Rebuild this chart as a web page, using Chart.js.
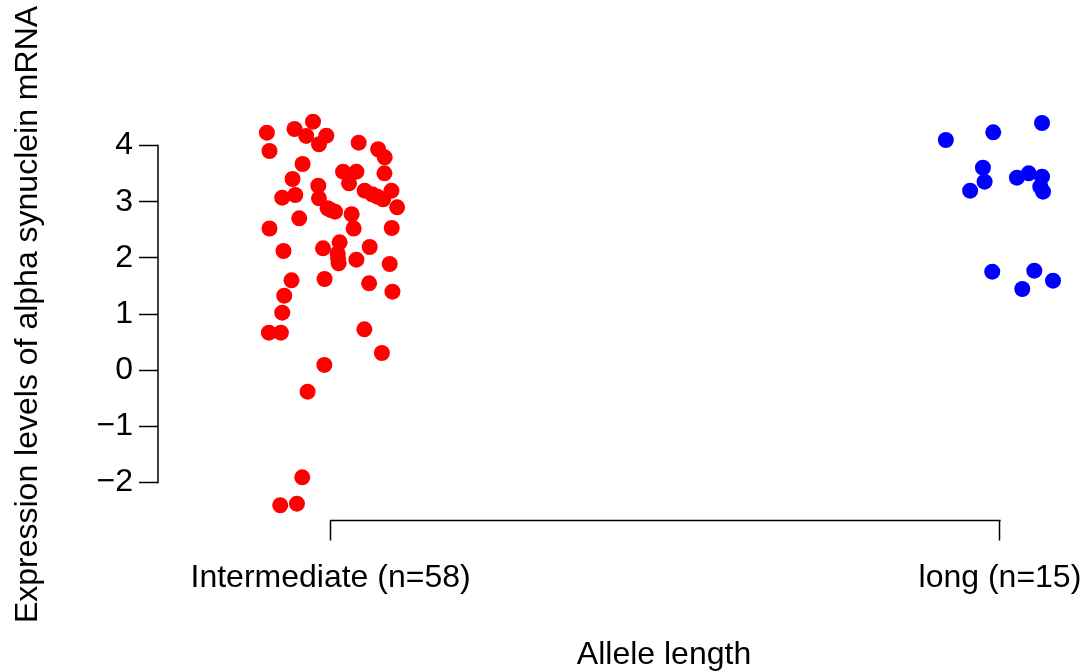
<!DOCTYPE html>
<html>
<head>
<meta charset="utf-8">
<script src="https://cdn.jsdelivr.net/npm/chart.js@4.4.1/dist/chart.umd.min.js"></script>
<style>
  html, body { margin: 0; padding: 0; background: #fff; overflow: hidden; }
  #wrap { position: relative; width: 1178px; height: 672px; }
</style>
</head>
<body>
<div id="wrap"><canvas id="c"></canvas></div>
<script>
// ---- data ----
const categories = ['Intermediate (n=58)', 'long (n=15)'];
const xTicks = [1, 2];
const yTicks = [-2, -1, 0, 1, 2, 3, 4];
const xTitle = 'Allele length';
const yTitle = 'Expression levels of alpha synuclein mRNA';

const intermediateValues = [
  4.228, 3.902, 4.294, 4.424, 4.170, 4.175, 4.022, 3.671, 4.050, 3.933,
  3.790, 3.404, 3.534, 3.534, 3.327, 3.505, 3.285, 3.119, 3.071, 3.060,
  3.196, 3.132, 3.196, 3.043, 2.900, 2.882, 2.822, 2.704, 2.776, 2.523,
  2.523, 2.532, 2.170, 2.277, 2.081, 2.122, 2.193, 1.903, 1.967, 1.891,
  1.624, 1.600, 1.547, 1.398, 1.326, 1.024, 0.668, 0.668, 0.728, 0.306,
  0.093, -0.383, -1.907, -2.405, -2.377, 2.850, 1.990, 3.090
];
const intermediateJitter = [
  -0.0952, -0.0913, -0.0539, -0.0263, -0.0364, -0.0064, -0.0174, -0.0419, 0.0419, 0.0710,
  0.0808, -0.0569, 0.0186, 0.0385, 0.0275, 0.0804, -0.0184, -0.0528, -0.0723, -0.0174,
  0.0509, 0.0620, 0.0909, 0.0784, 0.0994, -0.0045, 0.0066, -0.0469, 0.0314, -0.0913,
  0.0344, 0.0913, -0.0114, 0.0135, 0.0105, -0.0704, 0.0584, 0.0120, 0.0385, 0.0883,
  -0.0090, -0.0584, 0.0575, 0.0924, -0.0693, -0.0723, -0.0922, -0.0743, 0.0504, 0.0766,
  -0.0094, -0.0344, -0.0424, -0.0753, -0.0503, 0.0003, 0.0112, 0.0700
];
const longValues = [
  4.098, 4.235, 4.401, 3.605, 3.356, 3.196, 3.427, 3.505, 3.445, 3.267,
  3.178, 1.754, 1.771, 1.593, 1.446
];
const longJitter = [
  -0.0808, -0.0100, 0.0629, -0.0254, -0.0229, -0.0445, 0.0254, 0.0430, 0.0629, 0.0603,
  0.0644, -0.0115, 0.0514, 0.0793, 0.0334
];

// ---- build chart ----
function pts(vals, jit, cat) {
  return vals.map((v, i) => ({ x: cat + jit[i], y: v }));
}
const FONT = 'Liberation Sans, Arial, Helvetica, sans-serif';

const axisLines = {
  id: 'axisLines',
  afterDraw(chart) {
    const { ctx, chartArea, scales } = chart;
    ctx.save();
    ctx.strokeStyle = '#000';
    ctx.lineWidth = 1.5;
    ctx.lineCap = 'square';
    const y0 = scales.y.getPixelForValue(yTicks[0]);
    const y1 = scales.y.getPixelForValue(yTicks[yTicks.length - 1]);
    ctx.beginPath();
    ctx.moveTo(chartArea.left, y0);
    ctx.lineTo(chartArea.left, y1);
    ctx.stroke();
    const x0 = scales.x.getPixelForValue(xTicks[0]);
    const x1 = scales.x.getPixelForValue(xTicks[xTicks.length - 1]);
    ctx.beginPath();
    ctx.moveTo(x0, chartArea.bottom);
    ctx.lineTo(x1, chartArea.bottom);
    ctx.stroke();
    ctx.restore();
  }
};

new Chart(document.getElementById('c'), {
  type: 'scatter',
  data: {
    datasets: [
      { label: categories[0], data: pts(intermediateValues, intermediateJitter, 1),
        backgroundColor: '#FF0000', borderWidth: 0, pointRadius: 8 },
      { label: categories[1], data: pts(longValues, longJitter, 2),
        backgroundColor: '#0000FF', borderWidth: 0, pointRadius: 8 }
    ]
  },
  options: {
    responsive: true,
    maintainAspectRatio: false,
    animation: false,
    events: [],
    layout: { padding: { left: 0, top: 108.5, right: 2, bottom: 0 } },
    plugins: { legend: { display: false }, tooltip: { enabled: false } },
    scales: {
      x: {
        type: 'linear',
        min: 0.7421, max: 2.2541,
        afterFit(s) { s.height = 151.5; },
        afterBuildTicks(s) { s.ticks = xTicks.map(v => ({ value: v })); },
        border: { display: false },
        grid: { display: true, drawOnChartArea: false, drawTicks: true,
                tickLength: 20, tickColor: '#000', tickWidth: 1.5 },
        ticks: {
          color: '#000', padding: 18, maxRotation: 0, autoSkip: false,
          font: { family: FONT, size: 32 },
          callback: (v) => categories[xTicks.indexOf(v)] ?? ''
        },
        title: {
          display: true, text: xTitle, color: '#000',
          font: { family: FONT, size: 32, lineHeight: 1.0625 },
          padding: { top: 0, bottom: 0 }
        }
      },
      y: {
        type: 'linear',
        min: -2.676, max: 4.659,
        afterFit(s) { s.width = 158; },
        afterBuildTicks(s) { s.ticks = yTicks.map(v => ({ value: v })); },
        border: { display: false },
        grid: { display: true, drawOnChartArea: false, drawTicks: true,
                tickLength: 19, tickColor: '#000', tickWidth: 1.5 },
        ticks: {
          color: '#000', padding: 6,
          font: { family: FONT, size: 32 },
          callback: (v) => (v < 0 ? '\u2212' + Math.abs(v) : String(v))
        },
        title: {
          display: true, text: yTitle, color: '#000',
          font: { family: FONT, size: 32, lineHeight: 1.0625 },
          padding: { top: 11, bottom: 0 }
        }
      }
    }
  },
  plugins: [axisLines]
});
</script>
</body>
</html>
